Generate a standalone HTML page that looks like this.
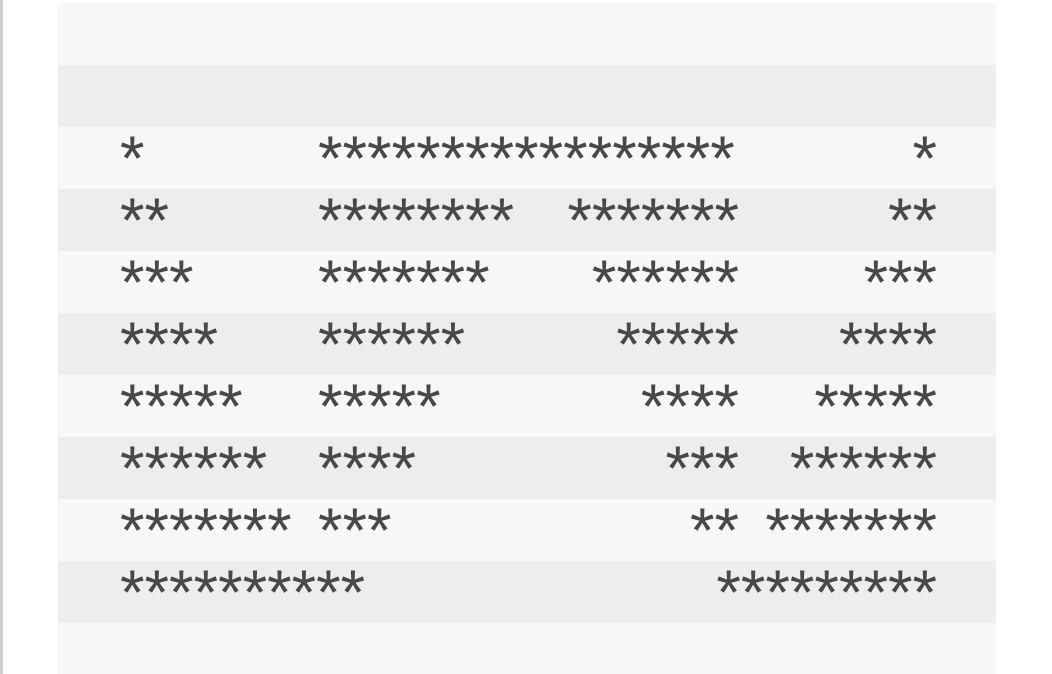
<!DOCTYPE html>
<html><head><meta charset="utf-8"><style>
html,body{margin:0;padding:0;width:1052px;height:674px;overflow:hidden;background:#fff}
#lb{position:absolute;left:0;top:0;width:3px;height:674px;background:#cfcfcf}
.row{position:absolute;left:58px;width:938px;height:62px}
.c{position:absolute;font-family:"Liberation Sans",sans-serif;font-size:63px;line-height:63px;color:#484848;white-space:pre}
</style></head><body>
<div id="lb"></div>
<div id="t"></div>
<script>
const rows=[
 ["","","",""],
 ["","","",""],
 ["*","*****************","","*"],
 ["**","********","*******","**"],
 ["***","*******","******","***"],
 ["****","******","*****","****"],
 ["*****","*****","****","*****"],
 ["******","****","***","******"],
 ["*******","***","**","*******"],
 ["**********","","","*********"],
 ["","","",""]
];
const t=document.getElementById('t');
rows.forEach((r,i)=>{
 const top=3+62*i;
 const row=document.createElement('div');
 row.className='row';
 
 
 row.style.top=top+'px';
 row.style.background=i%2?'#ededed':'#f7f7f7';
 if(i==10)row.style.height='51px';
 t.appendChild(row);
 r.forEach((s,j)=>{
  if(!s)return;
  const d=document.createElement('div');
  d.className='c';
  
  
  d.textContent=s;
  d.style.top=(top+1)+'px';
  if(j==0)d.style.left='120px';
  if(j==1)d.style.left='318px';
  if(j==2)d.style.right=(1052-739)+'px';
  if(j==3)d.style.right=(1052-937)+'px';
  t.appendChild(d);
 });
});
</script>
</body></html>
